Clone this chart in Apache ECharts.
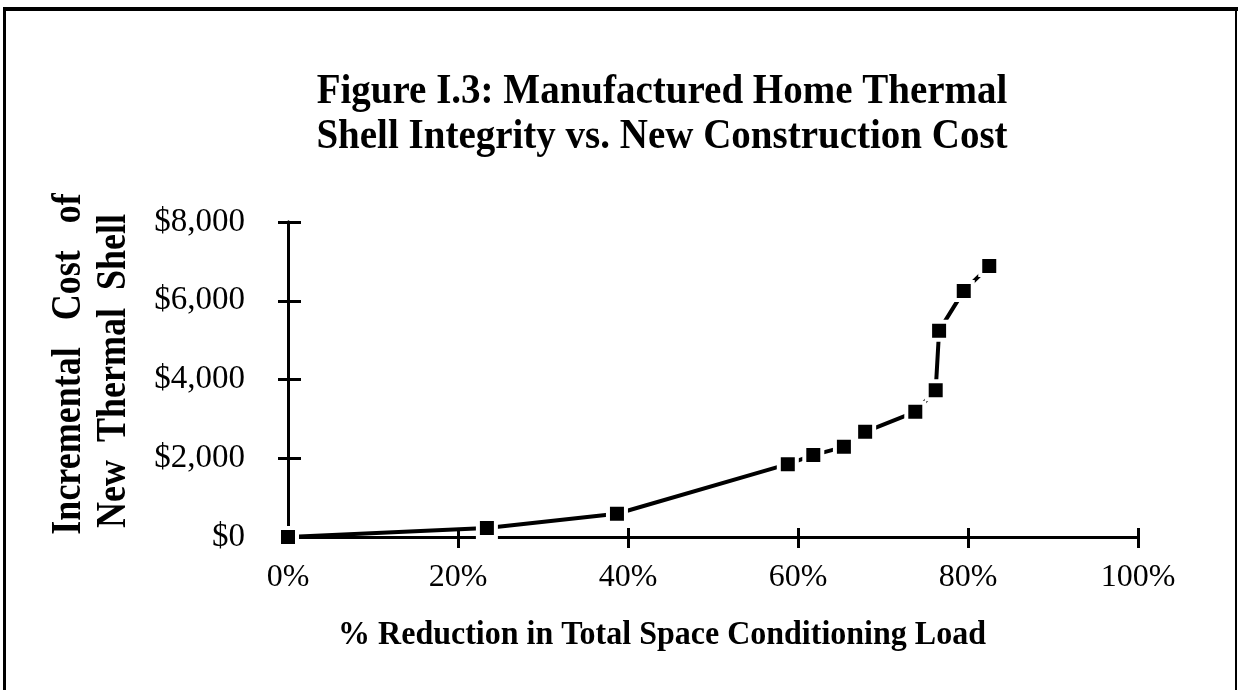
<!DOCTYPE html>
<html>
<head>
<meta charset="utf-8">
<script src="https://cdn.jsdelivr.net/npm/echarts@6/dist/echarts.min.js"></script>
<style>
  html, body { margin: 0; padding: 0; background: #fff; }
  #chart { width: 1238px; height: 690px; }
</style>
</head>
<body>
<div id="chart"></div>
<script>
// Load reduction (%) and incremental shell cost ($) for each package
const reductionPct = [0, 23.4, 38.7, 58.8, 61.8, 65.4, 67.9, 73.8, 76.2, 76.6, 79.5, 82.5];
const shellCost = [0, 230, 590, 1850, 2080, 2290, 2670, 3180, 3730, 5240, 6250, 6880];

const xTicks = [0, 20, 40, 60, 80, 100];
const yTicks = [0, 2000, 4000, 6000, 8000];

const titleLines = ['Figure I.3: Manufactured Home Thermal', 'Shell Integrity vs. New Construction Cost'];
const xName = '% Reduction in Total Space Conditioning Load';
const yNameLines = ['Incremental   Cost   of', 'New  Thermal  Shell'];

const serif = '"Liberation Serif", "DejaVu Serif", serif';
const points = reductionPct.map((x, i) => [x, shellCost[i]]);

const fmtMoney = v => '$' + v.toLocaleString('en-US');

const chart = echarts.init(document.getElementById('chart'), null, { renderer: 'canvas' });

const baseX = {
  type: 'value',
  min: xTicks[0], max: xTicks[xTicks.length - 1], interval: 20,
  splitLine: { show: false },
  axisLine: { show: true, onZero: false, lineStyle: { color: '#000', width: 3 } },
};
const baseY = {
  type: 'value',
  min: yTicks[0], max: yTicks[yTicks.length - 1], interval: 2000,
  splitLine: { show: false },
  axisLine: { show: true, onZero: false, lineStyle: { color: '#000', width: 3 } },
};

chart.setOption({
  backgroundColor: '#fff',
  animation: false,
  grid: { left: 288, right: 100, top: 222, bottom: 153, containLabel: false },
  xAxis: [
    Object.assign({}, baseX, {
      position: 'bottom',
      axisTick: { show: true, inside: false, length: 11, lineStyle: { color: '#000', width: 3 } },
      axisLabel: {
        show: true, margin: 25, color: '#000',
        fontFamily: serif, fontSize: 32,
        formatter: v => v + '%'
      }
    }),
    Object.assign({}, baseX, {
      position: 'bottom',
      axisTick: { show: true, inside: true, length: 9, lineStyle: { color: '#000', width: 3 } },
      axisLabel: { show: false }
    })
  ],
  yAxis: [
    Object.assign({}, baseY, {
      position: 'left',
      axisTick: { show: true, inside: false, length: 10, lineStyle: { color: '#000', width: 3 } },
      axisLabel: {
        show: true, margin: 43, color: '#000',
        fontFamily: serif, fontSize: 33,
        formatter: fmtMoney
      }
    }),
    Object.assign({}, baseY, {
      position: 'left',
      axisTick: { show: true, inside: true, length: 13, lineStyle: { color: '#000', width: 3 } },
      axisLabel: { show: false }
    })
  ],
  series: [{
    type: 'line',
    data: points,
    xAxisIndex: 0,
    yAxisIndex: 0,
    symbol: 'rect',
    symbolSize: 18,
    showSymbol: true,
    lineStyle: { color: '#000', width: 4 },
    itemStyle: { color: '#000', borderColor: '#fff', borderWidth: 4 },
    z: 5
  }],
  graphic: [
    // page frame
    { type: 'rect', shape: { x: 3, y: 7, width: 1235, height: 4 }, style: { fill: '#000' }, silent: true },
    { type: 'rect', shape: { x: 3, y: 7, width: 3, height: 683 }, style: { fill: '#000' }, silent: true },
    { type: 'rect', shape: { x: 1235, y: 7, width: 2, height: 683 }, style: { fill: '#000' }, silent: true },
    // title
    {
      type: 'text', x: 662, y: 92, scaleY: 1.1,
      style: { text: titleLines[0], fill: '#000', font: 'bold 39px ' + serif, textAlign: 'center', textVerticalAlign: 'middle' }
    },
    {
      type: 'text', x: 662, y: 137, scaleY: 1.1,
      style: { text: titleLines[1], fill: '#000', font: 'bold 39px ' + serif, textAlign: 'center', textVerticalAlign: 'middle' }
    },
    // x axis name
    {
      type: 'text', x: 662, y: 635, scaleY: 1.08,
      style: { text: xName, fill: '#000', font: 'bold 32px ' + serif, textAlign: 'center', textVerticalAlign: 'middle' }
    },
    // y axis name (two rotated lines)
    {
      type: 'text', x: 69, y: 364, rotation: Math.PI / 2, scaleY: 1.15,
      style: { text: yNameLines[0], fill: '#000', font: 'bold 36px ' + serif, textAlign: 'center', textVerticalAlign: 'middle' }
    },
    {
      type: 'text', x: 114, y: 371, rotation: Math.PI / 2, scaleY: 1.15,
      style: { text: yNameLines[1], fill: '#000', font: 'bold 36px ' + serif, textAlign: 'center', textVerticalAlign: 'middle' }
    }
  ]
});
</script>
</body>
</html>
